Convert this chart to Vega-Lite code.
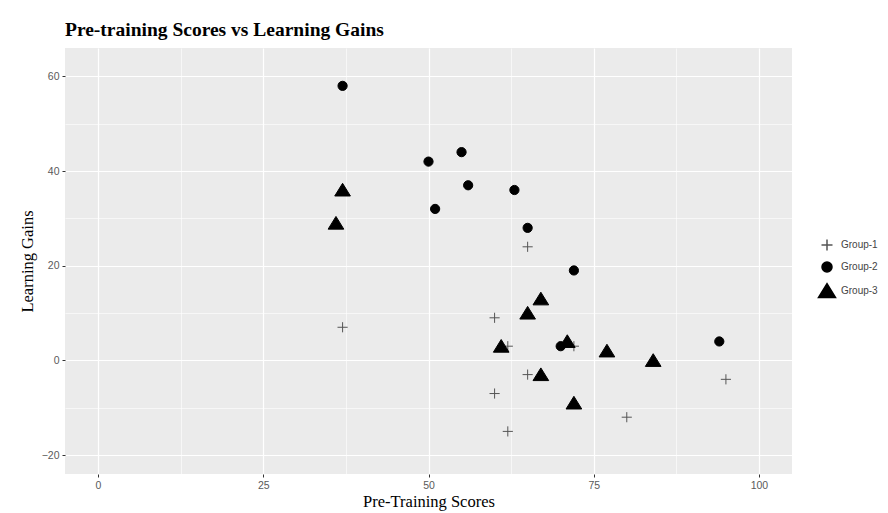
{
  "$schema": "https://vega.github.io/schema/vega-lite/v6.json",
  "autosize": {"type": "none"},
  "width": 727,
  "height": 426,
  "padding": {"left": 65, "top": 48, "right": 96, "bottom": 39},
  "background": "white",
  "title": {
    "text": "Pre-training Scores vs Learning Gains",
    "anchor": "start",
    "frame": "group",
    "font": "Liberation Serif",
    "fontSize": 19.5,
    "fontWeight": "bold",
    "color": "#000000",
    "offset": 8
  },
  "config": {
    "view": {"fill": "#EBEBEB", "stroke": null},
    "axis": {
      "domain": false,
      "gridColor": "#FFFFFF",
      "tickColor": "#333333",
      "tickSize": 3,
      "tickWidth": 1,
      "labelFont": "Liberation Sans",
      "labelFontSize": 10.5,
      "labelColor": "#5A5A5A",
      "labelPadding": 3,
      "titleFont": "Liberation Serif",
      "titleFontSize": 16.5,
      "titleFontWeight": "normal",
      "titleColor": "#000000"
    },
    "legend": {
      "labelFont": "Liberation Sans",
      "labelFontSize": 10,
      "labelColor": "#444444",
      "rowPadding": 5,
      "labelOffset": 8
    }
  },
  "data": {
    "values": [
      {"score": 37, "gain": 7, "group": "Group-1"},
      {"score": 60, "gain": 9, "group": "Group-1"},
      {"score": 62, "gain": 3, "group": "Group-1"},
      {"score": 72, "gain": 3, "group": "Group-1"},
      {"score": 65, "gain": -3, "group": "Group-1"},
      {"score": 60, "gain": -7, "group": "Group-1"},
      {"score": 62, "gain": -15, "group": "Group-1"},
      {"score": 80, "gain": -12, "group": "Group-1"},
      {"score": 95, "gain": -4, "group": "Group-1"},
      {"score": 65, "gain": 24, "group": "Group-1"},
      {"score": 37, "gain": 58, "group": "Group-2"},
      {"score": 50, "gain": 42, "group": "Group-2"},
      {"score": 55, "gain": 44, "group": "Group-2"},
      {"score": 56, "gain": 37, "group": "Group-2"},
      {"score": 51, "gain": 32, "group": "Group-2"},
      {"score": 63, "gain": 36, "group": "Group-2"},
      {"score": 65, "gain": 28, "group": "Group-2"},
      {"score": 72, "gain": 19, "group": "Group-2"},
      {"score": 70, "gain": 3, "group": "Group-2"},
      {"score": 94, "gain": 4, "group": "Group-2"},
      {"score": 37, "gain": 36, "group": "Group-3"},
      {"score": 36, "gain": 29, "group": "Group-3"},
      {"score": 67, "gain": 13, "group": "Group-3"},
      {"score": 65, "gain": 10, "group": "Group-3"},
      {"score": 61, "gain": 3, "group": "Group-3"},
      {"score": 71, "gain": 4, "group": "Group-3"},
      {"score": 77, "gain": 2, "group": "Group-3"},
      {"score": 84, "gain": 0, "group": "Group-3"},
      {"score": 67, "gain": -3, "group": "Group-3"},
      {"score": 72, "gain": -9, "group": "Group-3"}
    ]
  },
  "mark": {"type": "point", "filled": true, "size": 85, "strokeWidth": 1, "opacity": 1},
  "encoding": {
    "x": {
      "field": "score",
      "type": "quantitative",
      "scale": {"domain": [-5, 105], "nice": false, "zero": false},
      "axis": {
        "title": "Pre-Training Scores",
        "values": [0, 12.5, 25, 37.5, 50, 62.5, 75, 87.5, 100],
        "labelExpr": "datum.value % 25 === 0 ? datum.label : ''",
        "tickOpacity": {"condition": {"test": "datum.value % 25 !== 0", "value": 0}, "value": 1},
        "gridWidth": {"condition": {"test": "datum.value % 25 !== 0", "value": 0.6}, "value": 1.2},
        "titlePadding": 3
      }
    },
    "y": {
      "field": "gain",
      "type": "quantitative",
      "scale": {"domain": [-24, 66], "nice": false, "zero": false},
      "axis": {
        "title": "Learning Gains",
        "values": [-20, -10, 0, 10, 20, 30, 40, 50, 60],
        "labelExpr": "datum.value % 20 === 0 ? datum.label : ''",
        "tickOpacity": {"condition": {"test": "datum.value % 20 !== 0", "value": 0}, "value": 1},
        "gridWidth": {"condition": {"test": "datum.value % 20 !== 0", "value": 0.6}, "value": 1.2},
        "titlePadding": 6
      }
    },
    "shape": {
      "field": "group",
      "type": "nominal",
      "scale": {
        "domain": ["Group-1", "Group-2", "Group-3"],
        "range": ["M-1.1,0L1.1,0M0,-1.1L0,1.1", "circle", "M0,-1.45L1.7,1.3L-1.7,1.3Z"]
      },
      "legend": {"title": null, "orient": "none", "legendX": 756, "legendY": 191}
    },
    "color": {
      "field": "group",
      "type": "nominal",
      "scale": {"domain": ["Group-1", "Group-2", "Group-3"], "range": ["#555555", "#000000", "#000000"]},
      "legend": {"title": null, "orient": "none", "legendX": 756, "legendY": 191}
    },
    "stroke": {
      "field": "group",
      "type": "nominal",
      "scale": {"domain": ["Group-1", "Group-2", "Group-3"], "range": ["#555555", "#000000", "#000000"]},
      "legend": {"title": null, "orient": "none", "legendX": 756, "legendY": 191}
    }
  }
}
